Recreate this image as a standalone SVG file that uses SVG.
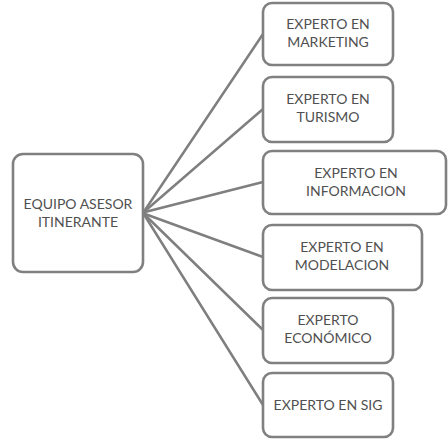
<svg xmlns="http://www.w3.org/2000/svg" width="448" height="441" viewBox="0 0 448 441">
<style>
.box{fill:#ffffff;stroke:#808080;stroke-width:2.6}
.lbl{font-family:Lato,"Liberation Sans",sans-serif;font-size:14px;fill:#505050;text-anchor:middle}
.con{stroke:#7f7f7f;stroke-width:2.5;fill:none;stroke-linecap:round}
</style>
<rect width="448" height="441" fill="#ffffff"/>
<g id="connectors">
<line class="con" x1="145" y1="210" x2="263" y2="34"/>
<line class="con" x1="145" y1="211" x2="263" y2="109"/>
<line class="con" x1="145" y1="212" x2="263" y2="182"/>
<line class="con" x1="145" y1="214" x2="263" y2="257"/>
<line class="con" x1="145" y1="215" x2="263" y2="330"/>
<line class="con" x1="145" y1="216" x2="263" y2="405"/>
</g>
<g id="equipo">
<rect class="box" x="13" y="154" width="130" height="118" rx="10"/>
<text class="lbl" x="78" y="209">EQUIPO ASESOR</text>
<text class="lbl" x="78" y="227">ITINERANTE</text>
</g>
<g id="marketing">
<rect class="box" x="263" y="3" width="130" height="62" rx="9"/>
<text class="lbl" x="328" y="29">EXPERTO EN</text>
<text class="lbl" x="328" y="47">MARKETING</text>
</g>
<g id="turismo">
<rect class="box" x="263" y="77" width="130" height="65" rx="9"/>
<text class="lbl" x="328" y="104">EXPERTO EN</text>
<text class="lbl" x="328" y="122">TURISMO</text>
</g>
<g id="informacion">
<rect class="box" x="263" y="151" width="183" height="63" rx="9"/>
<text class="lbl" x="356" y="178">EXPERTO EN</text>
<text class="lbl" x="356" y="196">INFORMACION</text>
</g>
<g id="modelacion">
<rect class="box" x="263" y="225" width="159" height="65" rx="9"/>
<text class="lbl" x="342" y="252">EXPERTO EN</text>
<text class="lbl" x="342" y="270">MODELACION</text>
</g>
<g id="economico">
<rect class="box" x="263" y="298" width="130" height="65" rx="9"/>
<text class="lbl" x="328" y="325">EXPERTO</text>
<text class="lbl" x="328" y="343">ECONÓMICO</text>
</g>
<g id="sig">
<rect class="box" x="263" y="373" width="130" height="64" rx="9"/>
<text class="lbl" x="328" y="410">EXPERTO EN SIG</text>
</g>
</svg>
